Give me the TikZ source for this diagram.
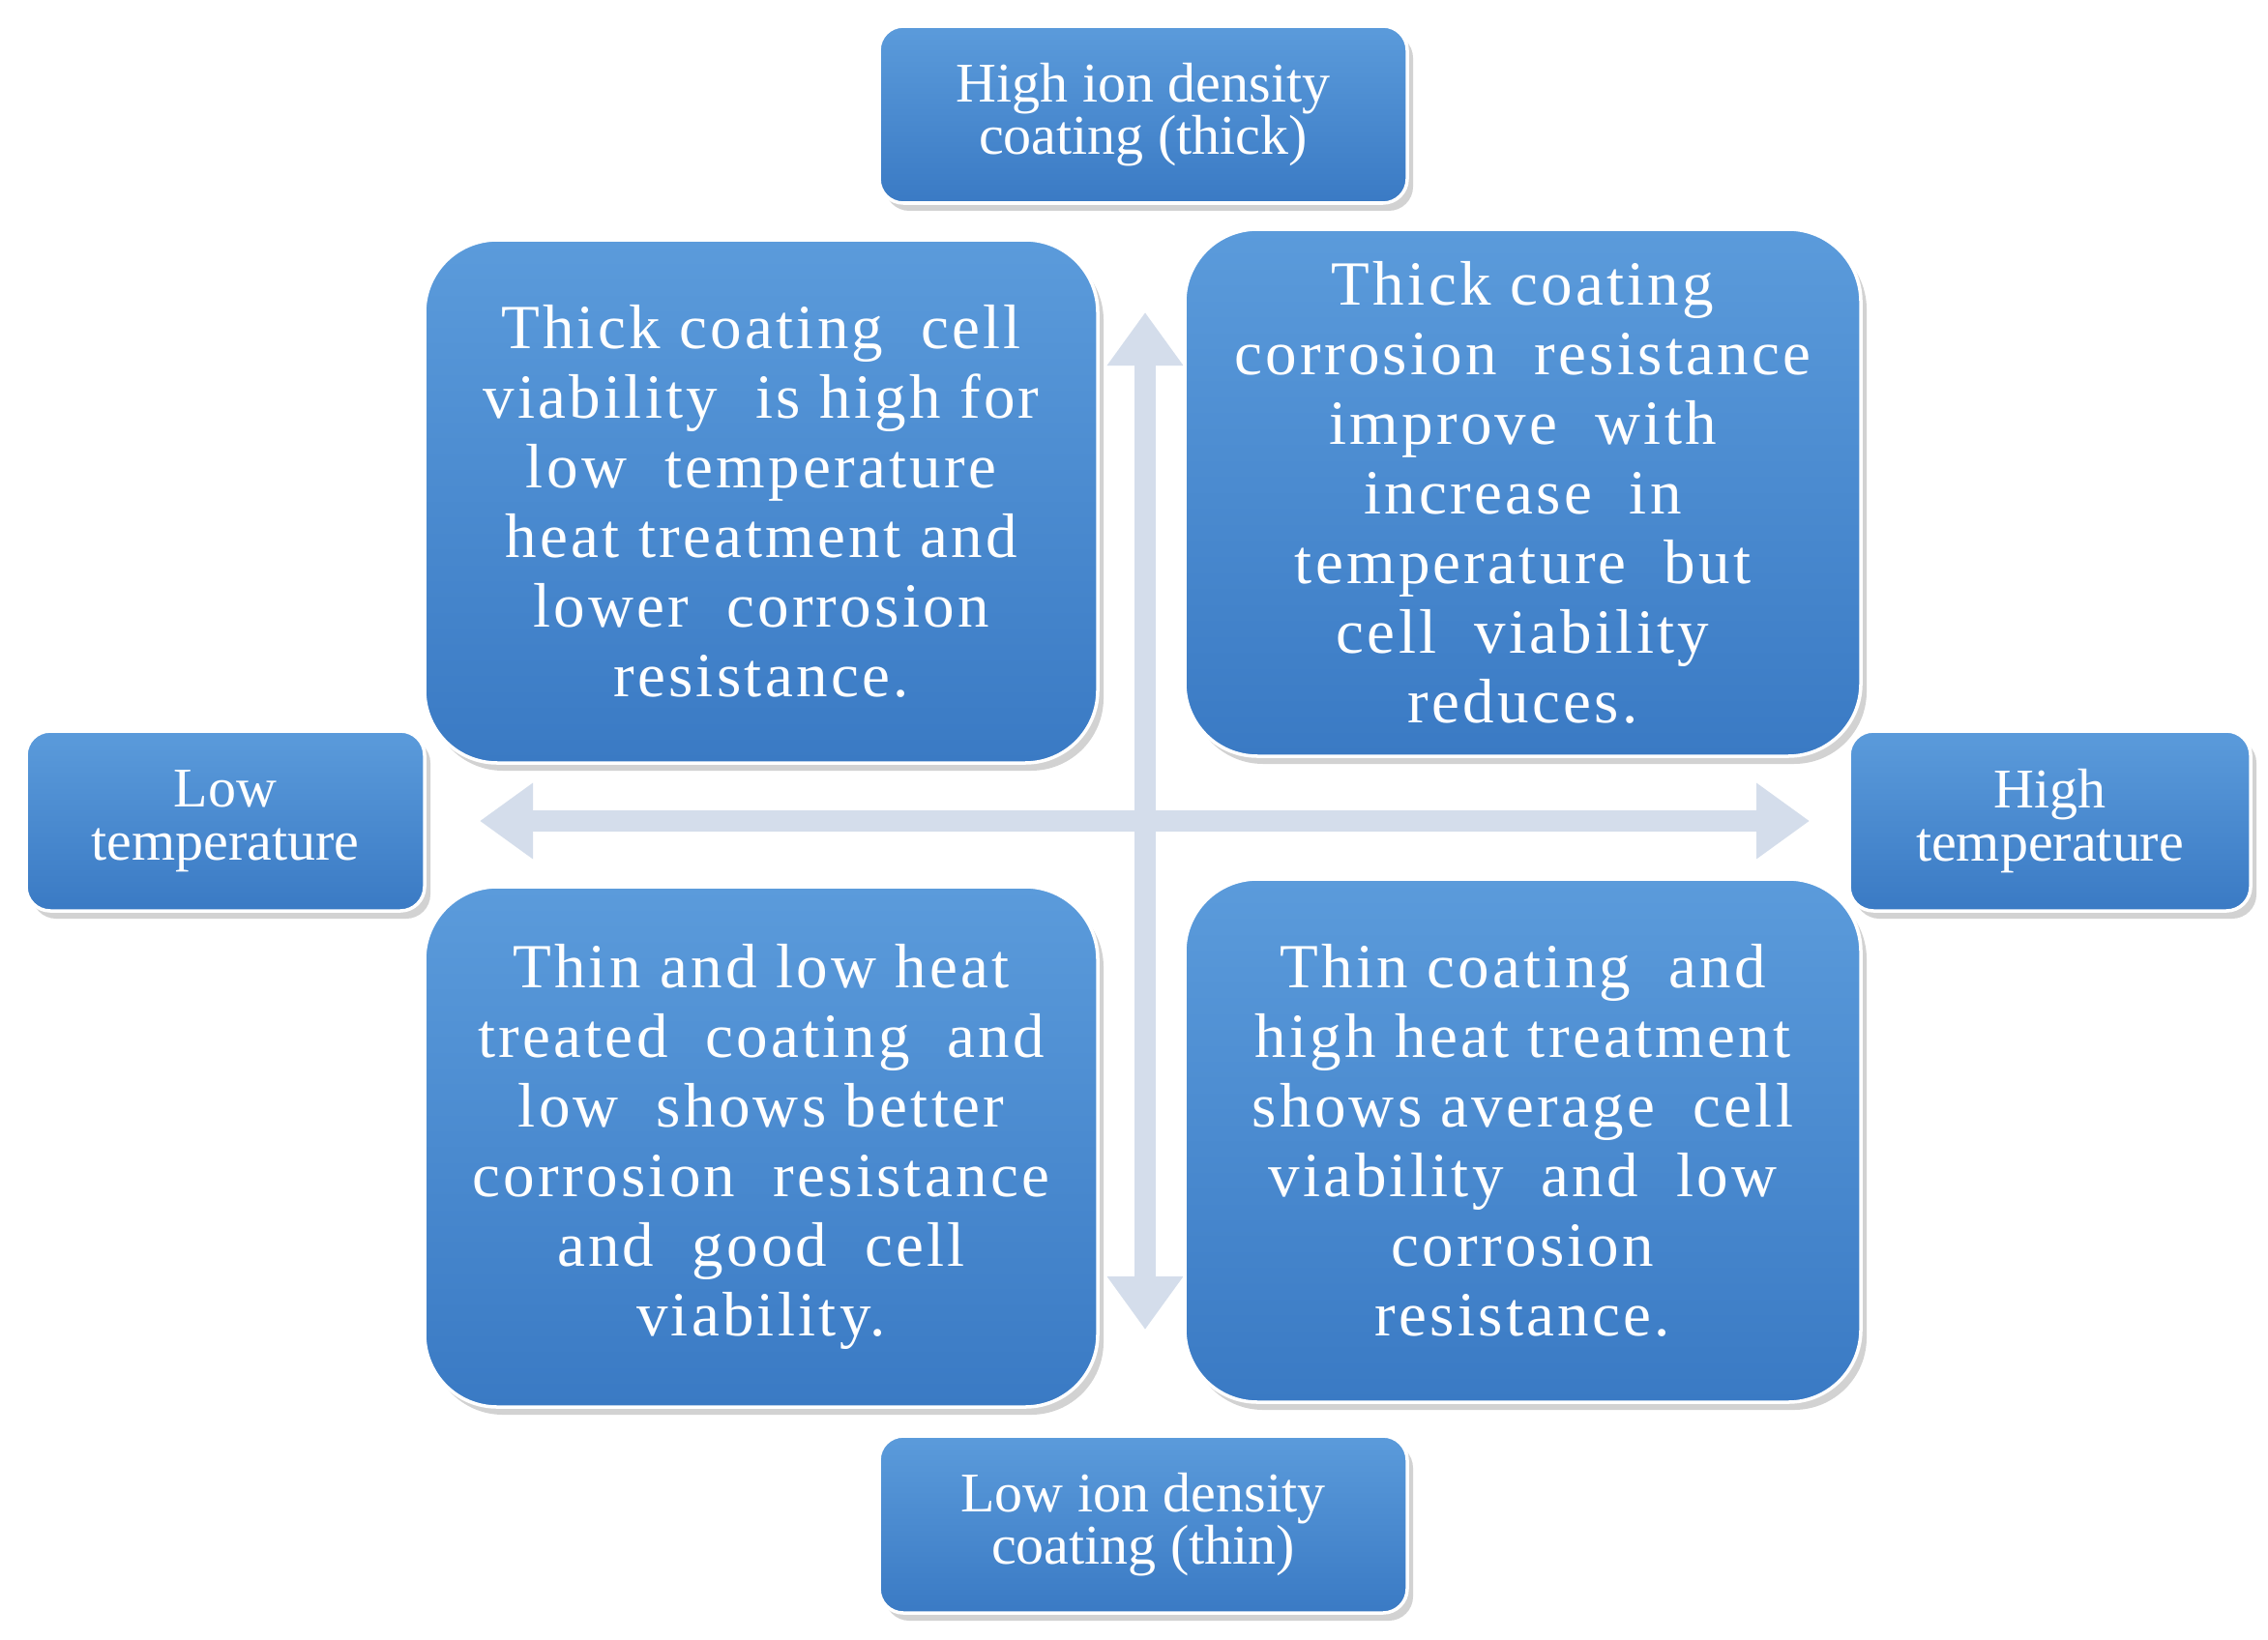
\documentclass[tikz,border=0pt]{standalone}
\usepackage{fontspec}
\setmainfont{Liberation Serif}
\usetikzlibrary{arrows.meta,shadows}
\definecolor{boxtop}{HTML}{5B9BDB}
\definecolor{boxbot}{HTML}{3A7AC4}
\definecolor{arr}{HTML}{D4DDEB}
\tikzset{
 bx/.style={draw=white,line width=1pt,top color=boxtop,bottom color=boxbot,text=white,align=center,inner sep=0pt,
   drop shadow={shadow xshift=0.06cm,shadow yshift=-0.08cm,opacity=0.35}},
 quad/.style={bx,rounded corners=0.75cm,font=\fontsize{18.5}{20.5}\selectfont\addfontfeatures{LetterSpace=5}},
 side/.style={bx,rounded corners=0.25cm,font=\fontsize{16.5}{15.5}\selectfont},
 axis/.style={arr,line width=0.22cm,{Triangle[width=0.75cm,length=0.55cm]}-{Triangle[width=0.75cm,length=0.55cm]}}
}
\begin{document}
\begin{tikzpicture}
\useasboundingbox[fill=white] (0,0) rectangle (23.45,-16.95);
\coordinate (L) at (4.96,-8.49);
\coordinate (R) at (18.71,-8.49);
\coordinate (T) at (11.84,-3.23);
\coordinate (B) at (11.84,-13.75);
\draw[axis] (L) -- (R);
\draw[axis] (T) -- (B);
\node[side,minimum width=5.46cm,minimum height=1.83cm] (top) at (11.82,-1.185) {High ion density\\coating (thick)};
\node[side,minimum width=5.46cm,minimum height=1.83cm] (bot) at (11.82,-15.765) {Low ion density\\coating (thin)};
\node[side,minimum width=4.12cm,minimum height=1.86cm] (lt) at (2.33,-8.49) {Low\\temperature};
\node[side,minimum width=4.15cm,minimum height=1.86cm] (ht) at (21.195,-8.49) {High\\temperature};
\node[quad,minimum width=6.96cm,minimum height=5.41cm] (q1) at (7.87,-5.185) {Thick coating\ \ cell\\viability\ \ is high for\\low\ \ temperature\\heat treatment and\\lower\ \ corrosion\\resistance.};
\node[quad,minimum width=6.99cm,minimum height=5.45cm] (q2) at (15.745,-5.095) {Thick coating\\corrosion\ \ resistance\\improve\ \ with\\increase\ \ in\\temperature\ \ but\\cell\ \ viability\\reduces.};
\node[quad,minimum width=6.96cm,minimum height=5.38cm] (q3) at (7.87,-11.86) {Thin and low heat\\treated\ \ coating\ \ and\\low\ \ shows better\\corrosion\ \ resistance\\and\ \ good\ \ cell\\viability.};
\node[quad,minimum width=6.99cm,minimum height=5.41cm] (q4) at (15.745,-11.795) {Thin coating\ \ and\\high heat treatment\\shows average\ \ cell\\viability\ \ and\ \ low\\corrosion\\resistance.};
\end{tikzpicture}
\end{document}
